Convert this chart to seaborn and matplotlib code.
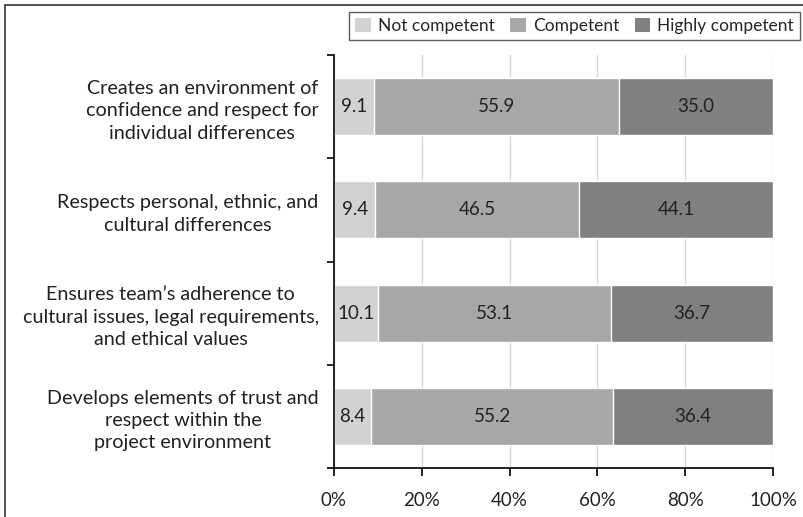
"""Stacked competence bars, recreated with seaborn."""

import matplotlib

matplotlib.use("Agg")
import matplotlib.pyplot as plt
import numpy as np
import pandas as pd
import seaborn as sns
from matplotlib.patches import Patch, Rectangle

categories = [
    "Creates an environment of\nconfidence and respect for\nindividual differences",
    "Respects personal, ethnic, and\ncultural differences",
    "Ensures team\u2019s adherence to\ncultural issues, legal requirements,\nand ethical values",
    "Develops elements of trust and\nrespect within the\nproject environment",
]
series = ["Not competent", "Competent", "Highly competent"]
not_competent = [9.1, 9.4, 10.1, 8.4]
competent = [55.9, 46.5, 53.1, 55.2]
highly_competent = [35.0, 44.1, 36.7, 36.4]
x_ticks = [0, 20, 40, 60, 80, 100]

colors = ["#d2d2d4", "#a7a7a9", "#808083"]


def main() -> None:
    sns.set_theme(style="white")
    plt.rcParams["font.family"] = ["Lato", "DejaVu Sans"]

    values = np.array([not_competent, competent, highly_competent])
    cum = values.cumsum(axis=0)
    frame = pd.DataFrame({"category": categories})
    for i, name in enumerate(series):
        frame[name] = cum[i]

    fig = plt.figure(figsize=(8.04, 5.17), dpi=100)
    ax = fig.add_axes([334 / 804, 1 - 468 / 517, (773 - 334) / 804, (468 - 55) / 517])

    # draw widest cumulative bar first so shorter ones overlay it
    for i in reversed(range(len(series))):
        sns.barplot(data=frame, x=series[i], y="category", color=colors[i],
                    width=0.55, saturation=1, ax=ax, orient="h")

    for j in range(len(categories)):
        for i in range(len(series)):
            mid = cum[i, j] - values[i, j] / 2
            ax.text(mid, j, f"{values[i, j]:.1f}", ha="center", va="center",
                    fontsize=13.5, color="#222222")

    ax.set_xlim(0, 100)
    ax.set_ylim(len(categories) - 0.5, -0.5)
    ax.set_xticks(x_ticks)
    ax.set_xticklabels([f"{t}%" for t in x_ticks], fontsize=13.5, color="#222222")
    ax.set_yticks(range(len(categories)))
    ax.set_yticklabels(categories, fontsize=14.2, color="#222222", linespacing=1.38, ma="center")
    ax.set_yticks(np.arange(-0.5, len(categories)), minor=True)
    ax.tick_params(axis="y", which="major", length=0, pad=11)
    ax.tick_params(axis="y", which="minor", length=5, width=1.2, color="black", direction="out", left=True)
    ax.tick_params(axis="x", length=6, width=1.2, color="black", direction="out", bottom=True, pad=11)
    ax.set_xlabel("")
    ax.set_ylabel("")
    ax.xaxis.grid(True, color="#d9d9d9", linewidth=1)
    ax.set_axisbelow(True)
    for side in ("top", "right"):
        ax.spines[side].set_visible(False)
    for side in ("left", "bottom"):
        ax.spines[side].set_color("black")
        ax.spines[side].set_linewidth(1.2)

    handles = [Patch(facecolor=c, edgecolor="none") for c in colors]
    leg = fig.legend(handles, series, loc="upper right", ncol=3,
                     bbox_to_anchor=(800 / 804, 1 - 12 / 517), frameon=True,
                     fancybox=False, fontsize=12.5, handlelength=0.9, handleheight=0.9,
                     handletextpad=0.4, columnspacing=0.9, borderpad=0.35, borderaxespad=0)
    leg.get_frame().set_edgecolor("#333333")
    leg.get_frame().set_linewidth(1.0)

    fig.patches.append(Rectangle((5 / 804, -0.1), 1.2, 1 - 5 / 517 + 0.1, transform=fig.transFigure,
                                 fill=False, edgecolor="#444444", linewidth=1.3))

    fig.savefig("out.png", dpi=100)
    plt.close(fig)


if __name__ == "__main__":
    main()
